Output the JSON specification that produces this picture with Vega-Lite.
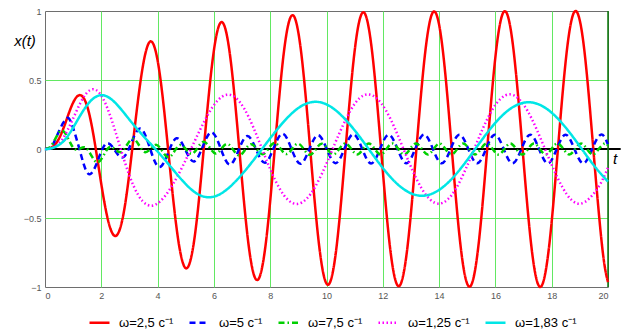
{
  "$schema": "https://vega.github.io/schema/vega-lite/v6.json",
  "width": 563,
  "height": 276,
  "autosize": {"type": "none"},
  "padding": {"left": 45, "top": 11, "right": 13, "bottom": 46},
  "config": {
    "view": {"stroke": "#6e6e6e", "strokeWidth": 1},
    "font": "Liberation Sans"
  },
  "datasets": {
    "one": [{}],
    "curves": [
      {"s":"ω=2,5 с⁻¹","t":0,"x":0},{"s":"ω=2,5 с⁻¹","t":0.314,"x":0.023},{"s":"ω=2,5 с⁻¹","t":0.628,"x":0.135},{"s":"ω=2,5 с⁻¹","t":0.942,"x":0.31},{"s":"ω=2,5 с⁻¹","t":1.257,"x":0.39},{"s":"ω=2,5 с⁻¹","t":1.571,"x":0.255},{"s":"ω=2,5 с⁻¹","t":1.885,"x":-0.105},{"s":"ω=2,5 с⁻¹","t":2.199,"x":-0.48},{"s":"ω=2,5 с⁻¹","t":2.513,"x":-0.63},{"s":"ω=2,5 с⁻¹","t":2.827,"x":-0.426},{"s":"ω=2,5 с⁻¹","t":3.142,"x":0.075},{"s":"ω=2,5 с⁻¹","t":3.456,"x":0.575},{"s":"ω=2,5 с⁻¹","t":3.77,"x":0.78},{"s":"ω=2,5 с⁻¹","t":4.084,"x":0.533},{"s":"ω=2,5 с⁻¹","t":4.398,"x":-0.052},{"s":"ω=2,5 с⁻¹","t":4.712,"x":-0.63},{"s":"ω=2,5 с⁻¹","t":5.027,"x":-0.865},{"s":"ω=2,5 с⁻¹","t":5.341,"x":-0.6},{"s":"ω=2,5 с⁻¹","t":5.655,"x":0.035},{"s":"ω=2,5 с⁻¹","t":5.969,"x":0.668},{"s":"ω=2,5 с⁻¹","t":6.283,"x":0.92},{"s":"ω=2,5 с⁻¹","t":6.597,"x":0.641},{"s":"ω=2,5 с⁻¹","t":6.912,"x":-0.024},{"s":"ω=2,5 с⁻¹","t":7.226,"x":-0.685},{"s":"ω=2,5 с⁻¹","t":7.54,"x":-0.95},{"s":"ω=2,5 с⁻¹","t":7.854,"x":-0.666},{"s":"ω=2,5 с⁻¹","t":8.168,"x":0.016},{"s":"ω=2,5 с⁻¹","t":8.482,"x":0.695},{"s":"ω=2,5 с⁻¹","t":8.796,"x":0.97},{"s":"ω=2,5 с⁻¹","t":9.111,"x":0.682},{"s":"ω=2,5 с⁻¹","t":9.425,"x":-0.01},{"s":"ω=2,5 с⁻¹","t":9.739,"x":-0.701},{"s":"ω=2,5 с⁻¹","t":10.053,"x":-0.984},{"s":"ω=2,5 с⁻¹","t":10.367,"x":-0.692},{"s":"ω=2,5 с⁻¹","t":10.681,"x":0.007},{"s":"ω=2,5 с⁻¹","t":10.996,"x":0.704},{"s":"ω=2,5 с⁻¹","t":11.31,"x":0.991},{"s":"ω=2,5 с⁻¹","t":11.624,"x":0.698},{"s":"ω=2,5 с⁻¹","t":11.938,"x":-0.004},{"s":"ω=2,5 с⁻¹","t":12.252,"x":-0.705},{"s":"ω=2,5 с⁻¹","t":12.566,"x":-0.994},{"s":"ω=2,5 с⁻¹","t":12.881,"x":-0.702},{"s":"ω=2,5 с⁻¹","t":13.195,"x":0.002},{"s":"ω=2,5 с⁻¹","t":13.509,"x":0.705},{"s":"ω=2,5 с⁻¹","t":13.823,"x":0.997},{"s":"ω=2,5 с⁻¹","t":14.137,"x":0.706},{"s":"ω=2,5 с⁻¹","t":14.451,"x":0},{"s":"ω=2,5 с⁻¹","t":14.765,"x":-0.706},{"s":"ω=2,5 с⁻¹","t":15.08,"x":-0.998},{"s":"ω=2,5 с⁻¹","t":15.394,"x":-0.706},{"s":"ω=2,5 с⁻¹","t":15.708,"x":0},{"s":"ω=2,5 с⁻¹","t":16.022,"x":0.707},{"s":"ω=2,5 с⁻¹","t":16.336,"x":0.999},{"s":"ω=2,5 с⁻¹","t":16.65,"x":0.707},{"s":"ω=2,5 с⁻¹","t":16.965,"x":0},{"s":"ω=2,5 с⁻¹","t":17.279,"x":-0.707},{"s":"ω=2,5 с⁻¹","t":17.593,"x":-1},{"s":"ω=2,5 с⁻¹","t":17.907,"x":-0.707},{"s":"ω=2,5 с⁻¹","t":18.221,"x":0},{"s":"ω=2,5 с⁻¹","t":18.535,"x":0.707},{"s":"ω=2,5 с⁻¹","t":18.85,"x":1},{"s":"ω=2,5 с⁻¹","t":19.164,"x":0.707},{"s":"ω=2,5 с⁻¹","t":19.478,"x":0},{"s":"ω=2,5 с⁻¹","t":19.792,"x":-0.707},{"s":"ω=2,5 с⁻¹","t":20,"x":-0.965},

      {"s":"ω=5 с⁻¹","t":0,"x":0},{"s":"ω=5 с⁻¹","t":0.14,"x":0.004},{"s":"ω=5 с⁻¹","t":0.272,"x":0.028},{"s":"ω=5 с⁻¹","t":0.586,"x":0.167},{"s":"ω=5 с⁻¹","t":0.75,"x":0.215},{"s":"ω=5 с⁻¹","t":0.9,"x":0.205},{"s":"ω=5 с⁻¹","t":1.215,"x":0.005},{"s":"ω=5 с⁻¹","t":1.529,"x":-0.178},{"s":"ω=5 с⁻¹","t":1.843,"x":-0.101},{"s":"ω=5 с⁻¹","t":2.157,"x":0.037},{"s":"ω=5 с⁻¹","t":2.471,"x":-0.006},{"s":"ω=5 с⁻¹","t":2.785,"x":-0.06},{"s":"ω=5 с⁻¹","t":3.1,"x":0.061},{"s":"ω=5 с⁻¹","t":3.414,"x":0.147},{"s":"ω=5 с⁻¹","t":3.728,"x":0.006},{"s":"ω=5 с⁻¹","t":4.042,"x":-0.13},{"s":"ω=5 с⁻¹","t":4.356,"x":-0.037},{"s":"ω=5 с⁻¹","t":4.67,"x":0.078},{"s":"ω=5 с⁻¹","t":4.985,"x":-0.005},{"s":"ω=5 с⁻¹","t":5.299,"x":-0.09},{"s":"ω=5 с⁻¹","t":5.613,"x":0.022},{"s":"ω=5 с⁻¹","t":5.927,"x":0.121},{"s":"ω=5 с⁻¹","t":6.241,"x":0.004},{"s":"ω=5 с⁻¹","t":6.555,"x":-0.113},{"s":"ω=5 с⁻¹","t":6.869,"x":-0.013},{"s":"ω=5 с⁻¹","t":7.184,"x":0.094},{"s":"ω=5 с⁻¹","t":7.498,"x":-0.003},{"s":"ω=5 с⁻¹","t":7.812,"x":-0.1},{"s":"ω=5 с⁻¹","t":8.126,"x":0.008},{"s":"ω=5 с⁻¹","t":8.44,"x":0.111},{"s":"ω=5 с⁻¹","t":8.754,"x":0.002},{"s":"ω=5 с⁻¹","t":9.069,"x":-0.107},{"s":"ω=5 с⁻¹","t":9.383,"x":-0.005},{"s":"ω=5 с⁻¹","t":9.697,"x":0.1},{"s":"ω=5 с⁻¹","t":10.011,"x":-0.001},{"s":"ω=5 с⁻¹","t":10.325,"x":-0.103},{"s":"ω=5 с⁻¹","t":10.639,"x":0.003},{"s":"ω=5 с⁻¹","t":10.954,"x":0.107},{"s":"ω=5 с⁻¹","t":11.268,"x":0.001},{"s":"ω=5 с⁻¹","t":11.582,"x":-0.105},{"s":"ω=5 с⁻¹","t":11.896,"x":-0.002},{"s":"ω=5 с⁻¹","t":12.21,"x":0.103},{"s":"ω=5 с⁻¹","t":12.524,"x":-0.001},{"s":"ω=5 с⁻¹","t":12.839,"x":-0.104},{"s":"ω=5 с⁻¹","t":13.153,"x":0.001},{"s":"ω=5 с⁻¹","t":13.467,"x":0.105},{"s":"ω=5 с⁻¹","t":13.781,"x":0},{"s":"ω=5 с⁻¹","t":14.095,"x":-0.104},{"s":"ω=5 с⁻¹","t":14.409,"x":0},{"s":"ω=5 с⁻¹","t":14.723,"x":0.104},{"s":"ω=5 с⁻¹","t":15.038,"x":0},{"s":"ω=5 с⁻¹","t":15.352,"x":-0.104},{"s":"ω=5 с⁻¹","t":15.666,"x":0},{"s":"ω=5 с⁻¹","t":15.98,"x":0.104},{"s":"ω=5 с⁻¹","t":16.294,"x":0},{"s":"ω=5 с⁻¹","t":16.608,"x":-0.104},{"s":"ω=5 с⁻¹","t":16.923,"x":0},{"s":"ω=5 с⁻¹","t":17.237,"x":0.104},{"s":"ω=5 с⁻¹","t":17.551,"x":0},{"s":"ω=5 с⁻¹","t":17.865,"x":-0.104},{"s":"ω=5 с⁻¹","t":18.179,"x":0},{"s":"ω=5 с⁻¹","t":18.493,"x":0.104},{"s":"ω=5 с⁻¹","t":18.808,"x":0},{"s":"ω=5 с⁻¹","t":19.122,"x":-0.104},{"s":"ω=5 с⁻¹","t":19.436,"x":0},{"s":"ω=5 с⁻¹","t":19.75,"x":0.104},{"s":"ω=5 с⁻¹","t":20,"x":0.033},

      {"s":"ω=7,5 с⁻¹","t":0,"x":0},{"s":"ω=7,5 с⁻¹","t":0.194,"x":0.016},{"s":"ω=7,5 с⁻¹","t":0.403,"x":0.088},{"s":"ω=7,5 с⁻¹","t":0.612,"x":0.134},{"s":"ω=7,5 с⁻¹","t":0.822,"x":0.076},{"s":"ω=7,5 с⁻¹","t":1.031,"x":0.003},{"s":"ω=7,5 с⁻¹","t":1.241,"x":0.003},{"s":"ω=7,5 с⁻¹","t":1.45,"x":0.009},{"s":"ω=7,5 с⁻¹","t":1.66,"x":-0.052},{"s":"ω=7,5 с⁻¹","t":1.869,"x":-0.097},{"s":"ω=7,5 с⁻¹","t":2.079,"x":-0.047},{"s":"ω=7,5 с⁻¹","t":2.288,"x":0.013},{"s":"ω=7,5 с⁻¹","t":2.497,"x":-0.004},{"s":"ω=7,5 с⁻¹","t":2.707,"x":-0.022},{"s":"ω=7,5 с⁻¹","t":2.916,"x":0.031},{"s":"ω=7,5 с⁻¹","t":3.126,"x":0.074},{"s":"ω=7,5 с⁻¹","t":3.335,"x":0.029},{"s":"ω=7,5 с⁻¹","t":3.545,"x":-0.022},{"s":"ω=7,5 с⁻¹","t":3.754,"x":0.003},{"s":"ω=7,5 с⁻¹","t":3.963,"x":0.03},{"s":"ω=7,5 с⁻¹","t":4.173,"x":-0.018},{"s":"ω=7,5 с⁻¹","t":4.382,"x":-0.06},{"s":"ω=7,5 с⁻¹","t":4.592,"x":-0.018},{"s":"ω=7,5 с⁻¹","t":4.801,"x":0.029},{"s":"ω=7,5 с⁻¹","t":5.011,"x":-0.003},{"s":"ω=7,5 с⁻¹","t":5.22,"x":-0.035},{"s":"ω=7,5 с⁻¹","t":5.43,"x":0.011},{"s":"ω=7,5 с⁻¹","t":5.639,"x":0.052},{"s":"ω=7,5 с⁻¹","t":5.848,"x":0.011},{"s":"ω=7,5 с⁻¹","t":6.058,"x":-0.033},{"s":"ω=7,5 с⁻¹","t":6.267,"x":0.002},{"s":"ω=7,5 с⁻¹","t":6.477,"x":0.037},{"s":"ω=7,5 с⁻¹","t":6.686,"x":-0.006},{"s":"ω=7,5 с⁻¹","t":6.896,"x":-0.047},{"s":"ω=7,5 с⁻¹","t":7.105,"x":-0.007},{"s":"ω=7,5 с⁻¹","t":7.315,"x":0.035},{"s":"ω=7,5 с⁻¹","t":7.524,"x":-0.001},{"s":"ω=7,5 с⁻¹","t":7.733,"x":-0.038},{"s":"ω=7,5 с⁻¹","t":7.943,"x":0.004},{"s":"ω=7,5 с⁻¹","t":8.152,"x":0.044},{"s":"ω=7,5 с⁻¹","t":8.362,"x":0.004},{"s":"ω=7,5 с⁻¹","t":8.571,"x":-0.037},{"s":"ω=7,5 с⁻¹","t":8.781,"x":0.001},{"s":"ω=7,5 с⁻¹","t":8.99,"x":0.039},{"s":"ω=7,5 с⁻¹","t":9.199,"x":-0.002},{"s":"ω=7,5 с⁻¹","t":9.409,"x":-0.042},{"s":"ω=7,5 с⁻¹","t":9.618,"x":-0.003},{"s":"ω=7,5 с⁻¹","t":9.828,"x":0.038},{"s":"ω=7,5 с⁻¹","t":10.037,"x":-0.001},{"s":"ω=7,5 с⁻¹","t":10.247,"x":-0.039},{"s":"ω=7,5 с⁻¹","t":10.456,"x":0.001},{"s":"ω=7,5 с⁻¹","t":10.666,"x":0.041},{"s":"ω=7,5 с⁻¹","t":10.875,"x":0.002},{"s":"ω=7,5 с⁻¹","t":11.084,"x":-0.039},{"s":"ω=7,5 с⁻¹","t":11.294,"x":0},{"s":"ω=7,5 с⁻¹","t":11.503,"x":0.04},{"s":"ω=7,5 с⁻¹","t":11.713,"x":0},{"s":"ω=7,5 с⁻¹","t":11.922,"x":-0.04},{"s":"ω=7,5 с⁻¹","t":12.132,"x":0},{"s":"ω=7,5 с⁻¹","t":12.341,"x":0.04},{"s":"ω=7,5 с⁻¹","t":12.551,"x":0},{"s":"ω=7,5 с⁻¹","t":12.76,"x":-0.04},{"s":"ω=7,5 с⁻¹","t":12.969,"x":0},{"s":"ω=7,5 с⁻¹","t":13.179,"x":0.04},{"s":"ω=7,5 с⁻¹","t":13.388,"x":0},{"s":"ω=7,5 с⁻¹","t":13.598,"x":-0.04},{"s":"ω=7,5 с⁻¹","t":13.807,"x":0},{"s":"ω=7,5 с⁻¹","t":14.017,"x":0.04},{"s":"ω=7,5 с⁻¹","t":14.226,"x":0},{"s":"ω=7,5 с⁻¹","t":14.435,"x":-0.04},{"s":"ω=7,5 с⁻¹","t":14.645,"x":0},{"s":"ω=7,5 с⁻¹","t":14.854,"x":0.04},{"s":"ω=7,5 с⁻¹","t":15.064,"x":0},{"s":"ω=7,5 с⁻¹","t":15.273,"x":-0.04},{"s":"ω=7,5 с⁻¹","t":15.483,"x":0},{"s":"ω=7,5 с⁻¹","t":15.692,"x":0.04},{"s":"ω=7,5 с⁻¹","t":15.902,"x":0},{"s":"ω=7,5 с⁻¹","t":16.111,"x":-0.04},{"s":"ω=7,5 с⁻¹","t":16.32,"x":0},{"s":"ω=7,5 с⁻¹","t":16.53,"x":0.04},{"s":"ω=7,5 с⁻¹","t":16.739,"x":0},{"s":"ω=7,5 с⁻¹","t":16.949,"x":-0.04},{"s":"ω=7,5 с⁻¹","t":17.158,"x":0},{"s":"ω=7,5 с⁻¹","t":17.368,"x":0.04},{"s":"ω=7,5 с⁻¹","t":17.577,"x":0},{"s":"ω=7,5 с⁻¹","t":17.787,"x":-0.04},{"s":"ω=7,5 с⁻¹","t":17.996,"x":0},{"s":"ω=7,5 с⁻¹","t":18.205,"x":0.04},{"s":"ω=7,5 с⁻¹","t":18.415,"x":0},{"s":"ω=7,5 с⁻¹","t":18.624,"x":-0.04},{"s":"ω=7,5 с⁻¹","t":18.834,"x":0},{"s":"ω=7,5 с⁻¹","t":19.043,"x":0.04},{"s":"ω=7,5 с⁻¹","t":19.253,"x":0},{"s":"ω=7,5 с⁻¹","t":19.462,"x":-0.04},{"s":"ω=7,5 с⁻¹","t":19.671,"x":0},{"s":"ω=7,5 с⁻¹","t":19.881,"x":0.04},{"s":"ω=7,5 с⁻¹","t":20,"x":0.025},

      {"s":"ω=1,25 с⁻¹","t":0,"x":0},{"s":"ω=1,25 с⁻¹","t":0.168,"x":0.002},{"s":"ω=1,25 с⁻¹","t":0.482,"x":0.037},{"s":"ω=1,25 с⁻¹","t":0.796,"x":0.134},{"s":"ω=1,25 с⁻¹","t":1.11,"x":0.271},{"s":"ω=1,25 с⁻¹","t":1.424,"x":0.391},{"s":"ω=1,25 с⁻¹","t":1.739,"x":0.433},{"s":"ω=1,25 с⁻¹","t":2.053,"x":0.369},{"s":"ω=1,25 с⁻¹","t":2.367,"x":0.211},{"s":"ω=1,25 с⁻¹","t":2.681,"x":0.006},{"s":"ω=1,25 с⁻¹","t":2.995,"x":-0.19},{"s":"ω=1,25 с⁻¹","t":3.309,"x":-0.333},{"s":"ω=1,25 с⁻¹","t":3.624,"x":-0.403},{"s":"ω=1,25 с⁻¹","t":3.938,"x":-0.402},{"s":"ω=1,25 с⁻¹","t":4.252,"x":-0.344},{"s":"ω=1,25 с⁻¹","t":4.566,"x":-0.248},{"s":"ω=1,25 с⁻¹","t":4.88,"x":-0.129},{"s":"ω=1,25 с⁻¹","t":5.194,"x":0.004},{"s":"ω=1,25 с⁻¹","t":5.509,"x":0.139},{"s":"ω=1,25 с⁻¹","t":5.823,"x":0.261},{"s":"ω=1,25 с⁻¹","t":6.137,"x":0.352},{"s":"ω=1,25 с⁻¹","t":6.451,"x":0.393},{"s":"ω=1,25 с⁻¹","t":6.765,"x":0.373},{"s":"ω=1,25 с⁻¹","t":7.079,"x":0.292},{"s":"ω=1,25 с⁻¹","t":7.393,"x":0.161},{"s":"ω=1,25 с⁻¹","t":7.708,"x":0.002},{"s":"ω=1,25 с⁻¹","t":8.022,"x":-0.156},{"s":"ω=1,25 с⁻¹","t":8.336,"x":-0.287},{"s":"ω=1,25 с⁻¹","t":8.65,"x":-0.372},{"s":"ω=1,25 с⁻¹","t":8.964,"x":-0.398},{"s":"ω=1,25 с⁻¹","t":9.278,"x":-0.364},{"s":"ω=1,25 с⁻¹","t":9.593,"x":-0.276},{"s":"ω=1,25 с⁻¹","t":9.907,"x":-0.148},{"s":"ω=1,25 с⁻¹","t":10.221,"x":0.001},{"s":"ω=1,25 с⁻¹","t":10.849,"x":0.278},{"s":"ω=1,25 с⁻¹","t":11.478,"x":0.396},{"s":"ω=1,25 с⁻¹","t":12.106,"x":0.282},{"s":"ω=1,25 с⁻¹","t":12.734,"x":0},{"s":"ω=1,25 с⁻¹","t":13.363,"x":-0.28},{"s":"ω=1,25 с⁻¹","t":13.991,"x":-0.396},{"s":"ω=1,25 с⁻¹","t":14.619,"x":-0.28},{"s":"ω=1,25 с⁻¹","t":15.247,"x":0},{"s":"ω=1,25 с⁻¹","t":15.876,"x":0.28},{"s":"ω=1,25 с⁻¹","t":16.504,"x":0.396},{"s":"ω=1,25 с⁻¹","t":17.132,"x":0.28},{"s":"ω=1,25 с⁻¹","t":17.761,"x":0},{"s":"ω=1,25 с⁻¹","t":18.389,"x":-0.28},{"s":"ω=1,25 с⁻¹","t":19.017,"x":-0.396},{"s":"ω=1,25 с⁻¹","t":19.646,"x":-0.28},{"s":"ω=1,25 с⁻¹","t":20,"x":-0.133},

      {"s":"ω=1,83 с⁻¹","t":0,"x":0},{"s":"ω=1,83 с⁻¹","t":0.143,"x":0.001},{"s":"ω=1,83 с⁻¹","t":0.616,"x":0.048},{"s":"ω=1,83 с⁻¹","t":1.089,"x":0.186},{"s":"ω=1,83 с⁻¹","t":1.563,"x":0.335},{"s":"ω=1,83 с⁻¹","t":2.036,"x":0.39},{"s":"ω=1,83 с⁻¹","t":2.509,"x":0.332},{"s":"ω=1,83 с⁻¹","t":2.982,"x":0.217},{"s":"ω=1,83 с⁻¹","t":3.455,"x":0.103},{"s":"ω=1,83 с⁻¹","t":3.928,"x":-0.002},{"s":"ω=1,83 с⁻¹","t":4.401,"x":-0.113},{"s":"ω=1,83 с⁻¹","t":4.874,"x":-0.227},{"s":"ω=1,83 с⁻¹","t":5.348,"x":-0.317},{"s":"ω=1,83 с⁻¹","t":5.821,"x":-0.35},{"s":"ω=1,83 с⁻¹","t":6.294,"x":-0.318},{"s":"ω=1,83 с⁻¹","t":6.767,"x":-0.235},{"s":"ω=1,83 с⁻¹","t":7.24,"x":-0.124},{"s":"ω=1,83 с⁻¹","t":7.713,"x":0.001},{"s":"ω=1,83 с⁻¹","t":8.186,"x":0.126},{"s":"ω=1,83 с⁻¹","t":8.66,"x":0.237},{"s":"ω=1,83 с⁻¹","t":9.133,"x":0.314},{"s":"ω=1,83 с⁻¹","t":9.606,"x":0.342},{"s":"ω=1,83 с⁻¹","t":10.079,"x":0.315},{"s":"ω=1,83 с⁻¹","t":10.552,"x":0.239},{"s":"ω=1,83 с⁻¹","t":11.025,"x":0.129},{"s":"ω=1,83 с⁻¹","t":11.498,"x":0},{"s":"ω=1,83 с⁻¹","t":11.971,"x":-0.13},{"s":"ω=1,83 с⁻¹","t":12.445,"x":-0.24},{"s":"ω=1,83 с⁻¹","t":12.918,"x":-0.313},{"s":"ω=1,83 с⁻¹","t":13.391,"x":-0.339},{"s":"ω=1,83 с⁻¹","t":13.864,"x":-0.313},{"s":"ω=1,83 с⁻¹","t":14.337,"x":-0.24},{"s":"ω=1,83 с⁻¹","t":14.81,"x":-0.13},{"s":"ω=1,83 с⁻¹","t":15.284,"x":0},{"s":"ω=1,83 с⁻¹","t":15.757,"x":0.13},{"s":"ω=1,83 с⁻¹","t":16.23,"x":0.24},{"s":"ω=1,83 с⁻¹","t":16.703,"x":0.313},{"s":"ω=1,83 с⁻¹","t":17.176,"x":0.339},{"s":"ω=1,83 с⁻¹","t":17.649,"x":0.313},{"s":"ω=1,83 с⁻¹","t":18.122,"x":0.24},{"s":"ω=1,83 с⁻¹","t":18.596,"x":0.13},{"s":"ω=1,83 с⁻¹","t":19.069,"x":0},{"s":"ω=1,83 с⁻¹","t":19.542,"x":-0.13},{"s":"ω=1,83 с⁻¹","t":20,"x":-0.237}
    ]
  },
  "layer": [
    {
      "data": {"name": "one"},
      "mark": {"type": "rule", "color": "black", "strokeWidth": 2},
      "encoding": {
        "x": {"datum": 0, "type": "quantitative", "scale": {"domain": [0, 20], "nice": false, "zero": false},
          "axis": {
            "values": [0, 2, 4, 6, 8, 10, 12, 14, 16, 18, 20],
            "title": null, "ticks": false, "domain": false, "format": "~g",
            "labelFontSize": 9, "labelColor": "#555", "labelPadding": 4, "labelFont": "Liberation Sans",
            "grid": true, "gridWidth": 1,
            "gridColor": "#62e862",
            "gridOpacity": {"condition": {"test": "datum.value == 0 || datum.value == 20", "value": 0}, "value": 1}
          }},
        "x2": {"datum": 20.45},
        "y": {"datum": 0, "type": "quantitative", "scale": {"domain": [-1, 1], "nice": false},
          "axis": {
            "values": [-1, -0.5, 0, 0.5, 1],
            "title": null, "ticks": false, "domain": false, "format": "~g",
            "labelFontSize": 9, "labelColor": "#555", "labelPadding": 4, "labelFont": "Liberation Sans",
            "grid": true, "gridWidth": 1,
            "gridColor": "#62e862",
            "gridOpacity": {"condition": {"test": "abs(datum.value) == 0.5", "value": 1}, "value": 0}
          }}
      }
    },
    {
      "data": {"name": "one"},
      "mark": {"type": "rule", "color": "#0a7a0a", "strokeWidth": 1.5},
      "encoding": {"x": {"datum": 20, "type": "quantitative"}}
    },
    {
      "data": {"name": "curves"},
      "mark": {"type": "line", "interpolate": "natural", "strokeCap": "butt"},
      "encoding": {
        "x": {"field": "t", "type": "quantitative"},
        "y": {"field": "x", "type": "quantitative"},
        "color": {
          "field": "s", "type": "nominal",
          "scale": {"domain": ["ω=2,5 с⁻¹", "ω=5 с⁻¹", "ω=7,5 с⁻¹", "ω=1,25 с⁻¹", "ω=1,83 с⁻¹"],
                    "range": ["#ff0000", "#0000ff", "#00d000", "#ff00ff", "#00e6e6"]},
          "legend": {
            "title": null, "orient": "none", "legendX": 43, "legendY": 300,
            "direction": "horizontal", "columns": 5, "columnPadding": 10,
            "symbolType": "stroke", "symbolSize": 400, "labelOffset": 8,
            "labelFontSize": 13, "labelFont": "Liberation Sans", "labelColor": "#000"
          }
        },
        "strokeDash": {
          "field": "s", "type": "nominal",
          "scale": {"domain": ["ω=2,5 с⁻¹", "ω=5 с⁻¹", "ω=7,5 с⁻¹", "ω=1,25 с⁻¹", "ω=1,83 с⁻¹"],
                    "range": [[1, 0], [6, 4], [6, 3, 1.5, 3], [1.5, 2.5], [1, 0]]}
        },
        "strokeWidth": {
          "field": "s", "type": "nominal",
          "scale": {"domain": ["ω=2,5 с⁻¹", "ω=5 с⁻¹", "ω=7,5 с⁻¹", "ω=1,25 с⁻¹", "ω=1,83 с⁻¹"],
                    "range": [2.5, 2.5, 2, 1.6, 2]}
        }
      }
    },
    {
      "data": {"name": "one"},
      "mark": {"type": "text", "fontStyle": "italic", "fontSize": 15, "font": "Liberation Sans", "align": "center", "baseline": "middle", "color": "#000"},
      "encoding": {"x": {"datum": -0.71, "type": "quantitative"}, "y": {"datum": 0.78, "type": "quantitative"}, "text": {"value": "x(t)"}}
    },
    {
      "data": {"name": "one"},
      "mark": {"type": "text", "fontStyle": "italic", "fontSize": 15, "font": "Liberation Sans", "align": "center", "baseline": "middle", "color": "#000"},
      "encoding": {"x": {"datum": 20.25, "type": "quantitative"}, "y": {"datum": -0.075, "type": "quantitative"}, "text": {"value": "t"}}
    }
  ]
}
